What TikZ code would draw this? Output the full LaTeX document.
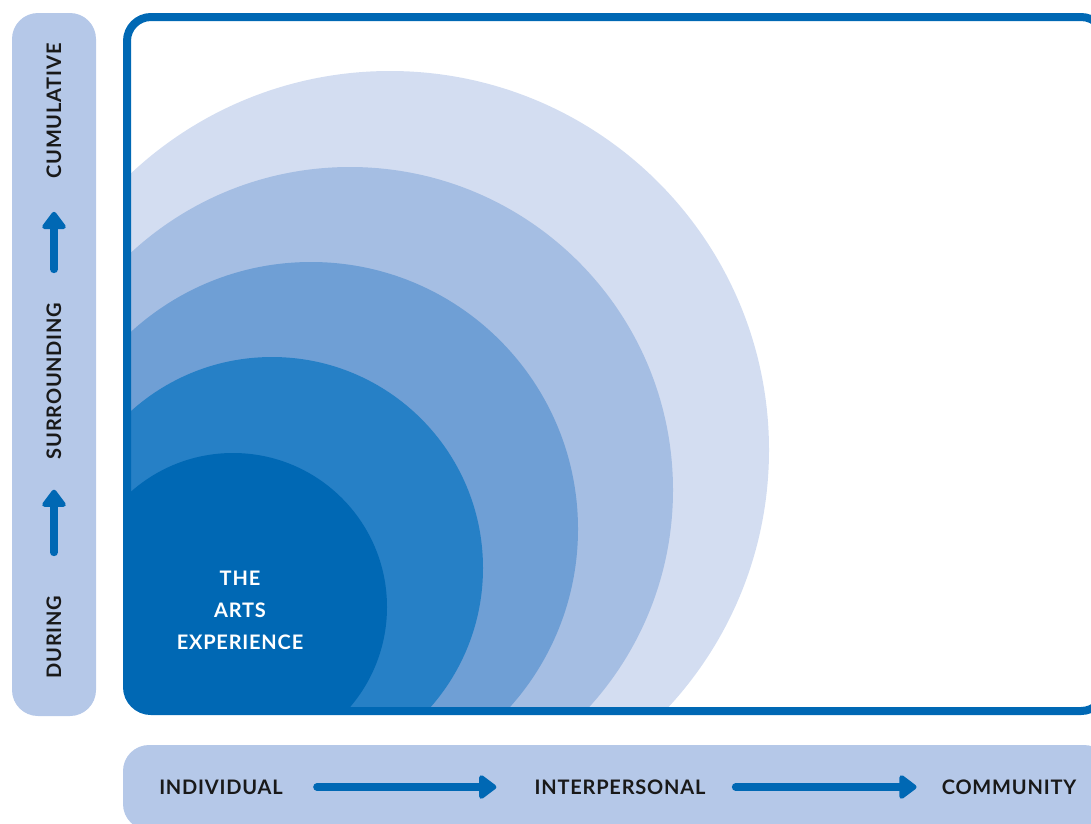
\documentclass[tikz,border=0pt]{standalone}
\usepackage{fontspec}
\setmainfont{Lato}
\newfontfamily\capsfont[LetterSpace=4]{Lato}
\usetikzlibrary{arrows.meta}

\definecolor{artblue}{RGB}{0,104,180}
\definecolor{ringtwo}{RGB}{38,128,198}
\definecolor{ringthree}{RGB}{111,159,213}
\definecolor{ringfour}{RGB}{165,190,227}
\definecolor{ringfive}{RGB}{211,221,241}
\definecolor{barblue}{RGB}{181,200,232}

\tikzset{
  bar/.style={fill=barblue, rounded corners=26pt},
  axislabel/.style={font=\capsfont\fontsize{20}{20}\selectfont\bfseries, text=black!90, inner sep=0pt},
  flow/.style={artblue, line width=7.5pt, line cap=round,
    -{Triangle[width=27pt, length=19pt, round]}},
}

\begin{document}
\begin{tikzpicture}[x=1pt, y=-1pt]
  \clip (0,0) rectangle (1091,823);

  % side and bottom bars
  \fill [bar] (12,13) rectangle (96,716);
  \fill [bar] (123,745) rectangle (1110,830);

  % rings, cut to the frame
  \begin{scope}
    \clip [rounded corners=24pt] (127,17) rectangle (1105,711);
    \fill [ringfive]  (390,450) circle (379);
    \fill [ringfour]  (350,490) circle (323);
    \fill [ringthree] (311,529) circle (267);
    \fill [ringtwo]   (272,568) circle (211);
    \fill [artblue]   (233,607) circle (154);
  \end{scope}
  \draw [artblue, line width=8pt, rounded corners=24pt] (127,17) rectangle (1105,711);

  \node [font=\capsfont\fontsize{20}{32}\selectfont\bfseries, text=white, align=center] (arts) at (240,610) {THE\\ARTS\\EXPERIENCE};

  % time axis
  \node [axislabel, rotate=90] (during) at (54,637) {DURING};
  \node [axislabel, rotate=90] (surrounding) at (54,381) {SURROUNDING};
  \node [axislabel, rotate=90] (cumulative) at (54,111) {CUMULATIVE};
  \draw [flow, shorten <=43pt, shorten >=30pt] (during) -- (surrounding);
  \draw [flow, shorten <=33pt, shorten >=33pt] (surrounding) -- (cumulative);

  % reach axis
  \node [axislabel] (individual) at (221,787) {INDIVIDUAL};
  \node [axislabel] (interpersonal) at (620,787) {INTERPERSONAL};
  \node [axislabel] (community) at (1009,787) {COMMUNITY};
  \draw [flow, shorten <=34pt, shorten >=38pt] (individual) -- (interpersonal);
  \draw [flow, shorten <=30pt, shorten >=25pt] (interpersonal) -- (community);
\end{tikzpicture}
\end{document}
